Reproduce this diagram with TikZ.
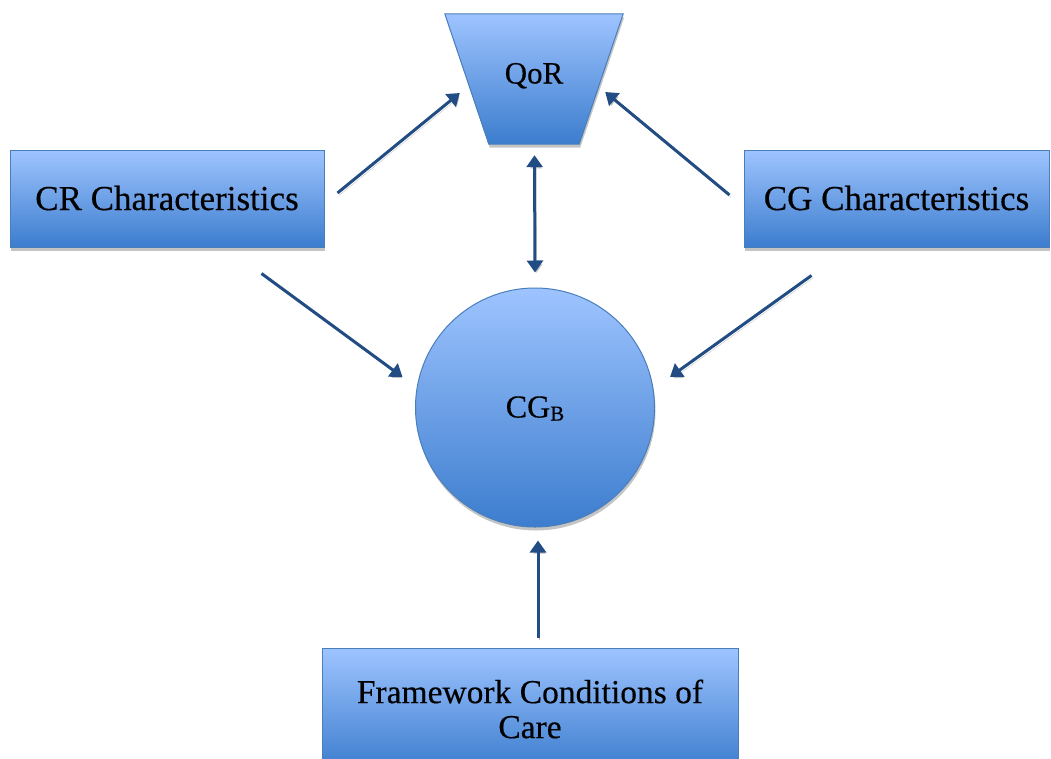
\documentclass[tikz,border=0pt]{standalone}
\usepackage{fontspec}
\setmainfont{Liberation Serif}[UprightFeatures={FakeBold=0.4}]
\usetikzlibrary{arrows.meta,calc,shadows,backgrounds}

\definecolor{fillTop}{RGB}{158,196,255}
\definecolor{fillBot}{RGB}{60,125,206}
\definecolor{edgeBlue}{RGB}{74,126,187}
\definecolor{arrowBlue}{RGB}{34,76,132}
\definecolor{shadowGray}{RGB}{196,196,196}

\tikzset{
  panel/.style={draw=edgeBlue, line width=1pt, top color=fillTop, bottom color=fillBot,
    drop shadow={shadow xshift=1pt, shadow yshift=-3.5pt, fill=shadowGray, opacity=1}},
  box/.style={panel, rectangle, inner sep=0pt, font=\fontsize{35}{40}\selectfont,
    text height=23pt, text depth=0pt},
  link/.style={draw=arrowBlue, line width=3pt, -{Triangle[length=12pt,width=16pt]},
    preaction={draw=shadowGray, transform canvas={xshift=1.5pt,yshift=-2.5pt}}},
  twoway/.style={link, {Triangle[length=12pt,width=16pt]}-{Triangle[length=12pt,width=16pt]}},
}

\begin{document}
\begin{tikzpicture}[x=1pt, y=-1pt]
  \useasboundingbox (0,0) rectangle (1051,758);

  % side boxes
  \node[box, minimum width=314pt, minimum height=97pt] (cr) at (167,198.5) {CR Characteristics};
  \node[box, minimum width=305pt, minimum height=97pt] (cg) at (896.5,198.5) {CG Characteristics};

  % quality of relationship: inverted trapezoid
  \node[inner sep=0pt, minimum width=178pt, minimum height=130pt,
        font=\fontsize{31}{34}\selectfont, text height=20pt, text depth=11pt] (qor) at (534,79) {QoR};
  \begin{scope}[on background layer]
    \path[panel] (qor.north west) -- (qor.north east)
      -- ($(qor.south east)+(-44,0)$) -- ($(qor.south west)+(44,0)$) -- cycle;
  \end{scope}

  % central circle
  \node[panel, circle, minimum size=239pt, inner sep=0pt, font=\fontsize{32}{34}\selectfont,
        text height=20pt, text depth=0pt] (cgb) at (535,407.5)
        {CG\raisebox{-3pt}{\fontsize{21}{21}\selectfont B}};

  % framework box at the bottom
  \node[panel, rectangle, inner sep=0pt, minimum width=416pt, minimum height=122pt,
        align=center, font=\fontsize{33.5}{35}\selectfont] (fw) at (530,709)
        {Framework Conditions of\\Care};

  % connectors
  \draw[link] ($(cr.east)+(13,-5.5)$) -- ($(qor.west)+(15,14)$);
  \draw[link] ($(cg.west)+(-14,-3.5)$) -- ($(qor.east)+(-18,13)$);
  \draw[twoway] ($(qor.south)+(0.5,11)$) -- ($(cgb.north)+(0,-15)$);
  \draw[link] ($(cr.south east)+(-63,26)$) -- ($(cgb.west)+(-12.5,-30.5)$);
  \draw[link] ($(cg.south west)+(68,28)$) -- ($(cgb.east)+(15,-30.5)$);
  \draw[link] ($(fw.north)+(8,-10)$) -- ($(cgb.south)+(3,13)$);
\end{tikzpicture}
\end{document}
